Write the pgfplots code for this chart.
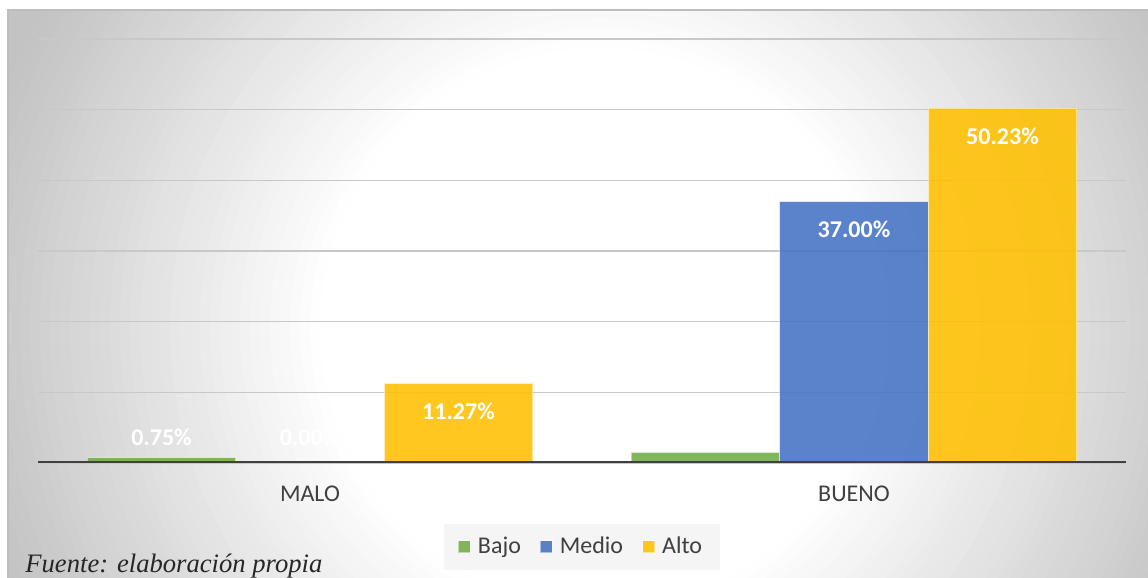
\documentclass[border=0pt]{standalone}
\usepackage{fontspec}
\setmainfont{Carlito}
\newfontfamily\fuentefont{Liberation Serif}
\usepackage{graphicx}
\usepackage{pgfplots}
\pgfplotsset{compat=1.18}

\definecolor{bajo}{HTML}{70AD47}
\definecolor{medio}{HTML}{4472C4}
\definecolor{alto}{HTML}{FFC000}
\definecolor{txt}{HTML}{404040}
\definecolor{gridc}{HTML}{C8C8C8}
\definecolor{bgedge}{HTML}{C3C3C3}
\definecolor{frame}{HTML}{BDBDBD}
\definecolor{legbg}{HTML}{F5F5F5}

\begin{document}
\begin{tikzpicture}
\useasboundingbox (0,0) rectangle (574pt,289pt);
\fill[white] (0,0) rectangle (574pt,289pt);
% chart area: radial gradient, white centre fading to grey
\begin{scope}
  \clip (4pt,-2pt) rectangle (576pt,284pt);
  \foreach \r in {380,375,...,140} {
    \pgfmathtruncatemacro\p{min(100,(\r-140)/1.8)}
    \fill[bgedge!\p!white] (300pt,125pt) circle (\r pt);
  }
\end{scope}
\draw[frame, line width=0.8pt] (4pt,-2pt) -- (4pt,284pt) -- (576pt,284pt);

\begin{axis}[
  at={(19pt,57.5pt)}, anchor=south west,
  scale only axis, width=544pt, height=212pt,
  xmin=-0.5, xmax=1.5, ymin=0, ymax=60,
  ybar, bar width=0.273,
  xtick={0,1}, xticklabels={MALO,BUENO},
  ytick={0,10,...,60}, yticklabels={},
  major tick length=0pt,
  axis line style={draw=none},
  ymajorgrids, grid style={gridc, line width=0.8pt},
  x tick label style={font=\fontsize{12}{14}\selectfont, text=txt, yshift=-8pt},
  legend style={at={(0.5,-0.198)}, anchor=center, legend columns=-1,
    draw=none, fill=legbg, font=\fontsize{12}{14}\selectfont, text=txt,
    inner xsep=7pt, inner ysep=4.5pt,
    /tikz/every even column/.append style={column sep=7.5pt}},
  legend image code/.code={\path[#1] (0pt,-3pt) rectangle (6pt,3pt); \path (6pt,0pt) -- (7.5pt,0pt);},
  every axis plot/.append style={fill opacity=0.88, draw=white, draw opacity=0.5, line width=0.5pt},
]
\addplot[fill=bajo, bar shift=-0.273] coordinates {(0,0.75) (1,1.5)};
\addlegendentry{Bajo}
\addplot[fill=medio, bar shift=0] coordinates {(0,0.00) (1,37.00)};
\addlegendentry{Medio}
\addplot[fill=alto, bar shift=0.273] coordinates {(0,11.27) (1,50.23)};
\addlegendentry{Alto}

\draw[txt, line width=2pt] (rel axis cs:0,0) -- (rel axis cs:1,0);

\tikzset{lab/.style={text=white, font=\bfseries\fontsize{12}{14}\selectfont, anchor=center, inner sep=0pt}}
\node[lab] at (axis cs:-0.273,3.68) {0.75\%};
\node[lab] at (axis cs:0,3.68) {0.00\%};
\node[lab] at (axis cs:0.273,7.31) {11.27\%};
\node[lab] at (axis cs:0.727,3.68) {1.50\%};
\node[lab] at (axis cs:1,33.04) {37.00\%};
\node[lab] at (axis cs:1.273,46.27) {50.23\%};
\end{axis}

\node[anchor=base west, inner sep=0pt, text=black!85] at (12.5pt,2.5pt)
  {\resizebox{148.5pt}{!}{\fuentefont\itshape Fuente: elaboración propia}};
\end{tikzpicture}
\end{document}
